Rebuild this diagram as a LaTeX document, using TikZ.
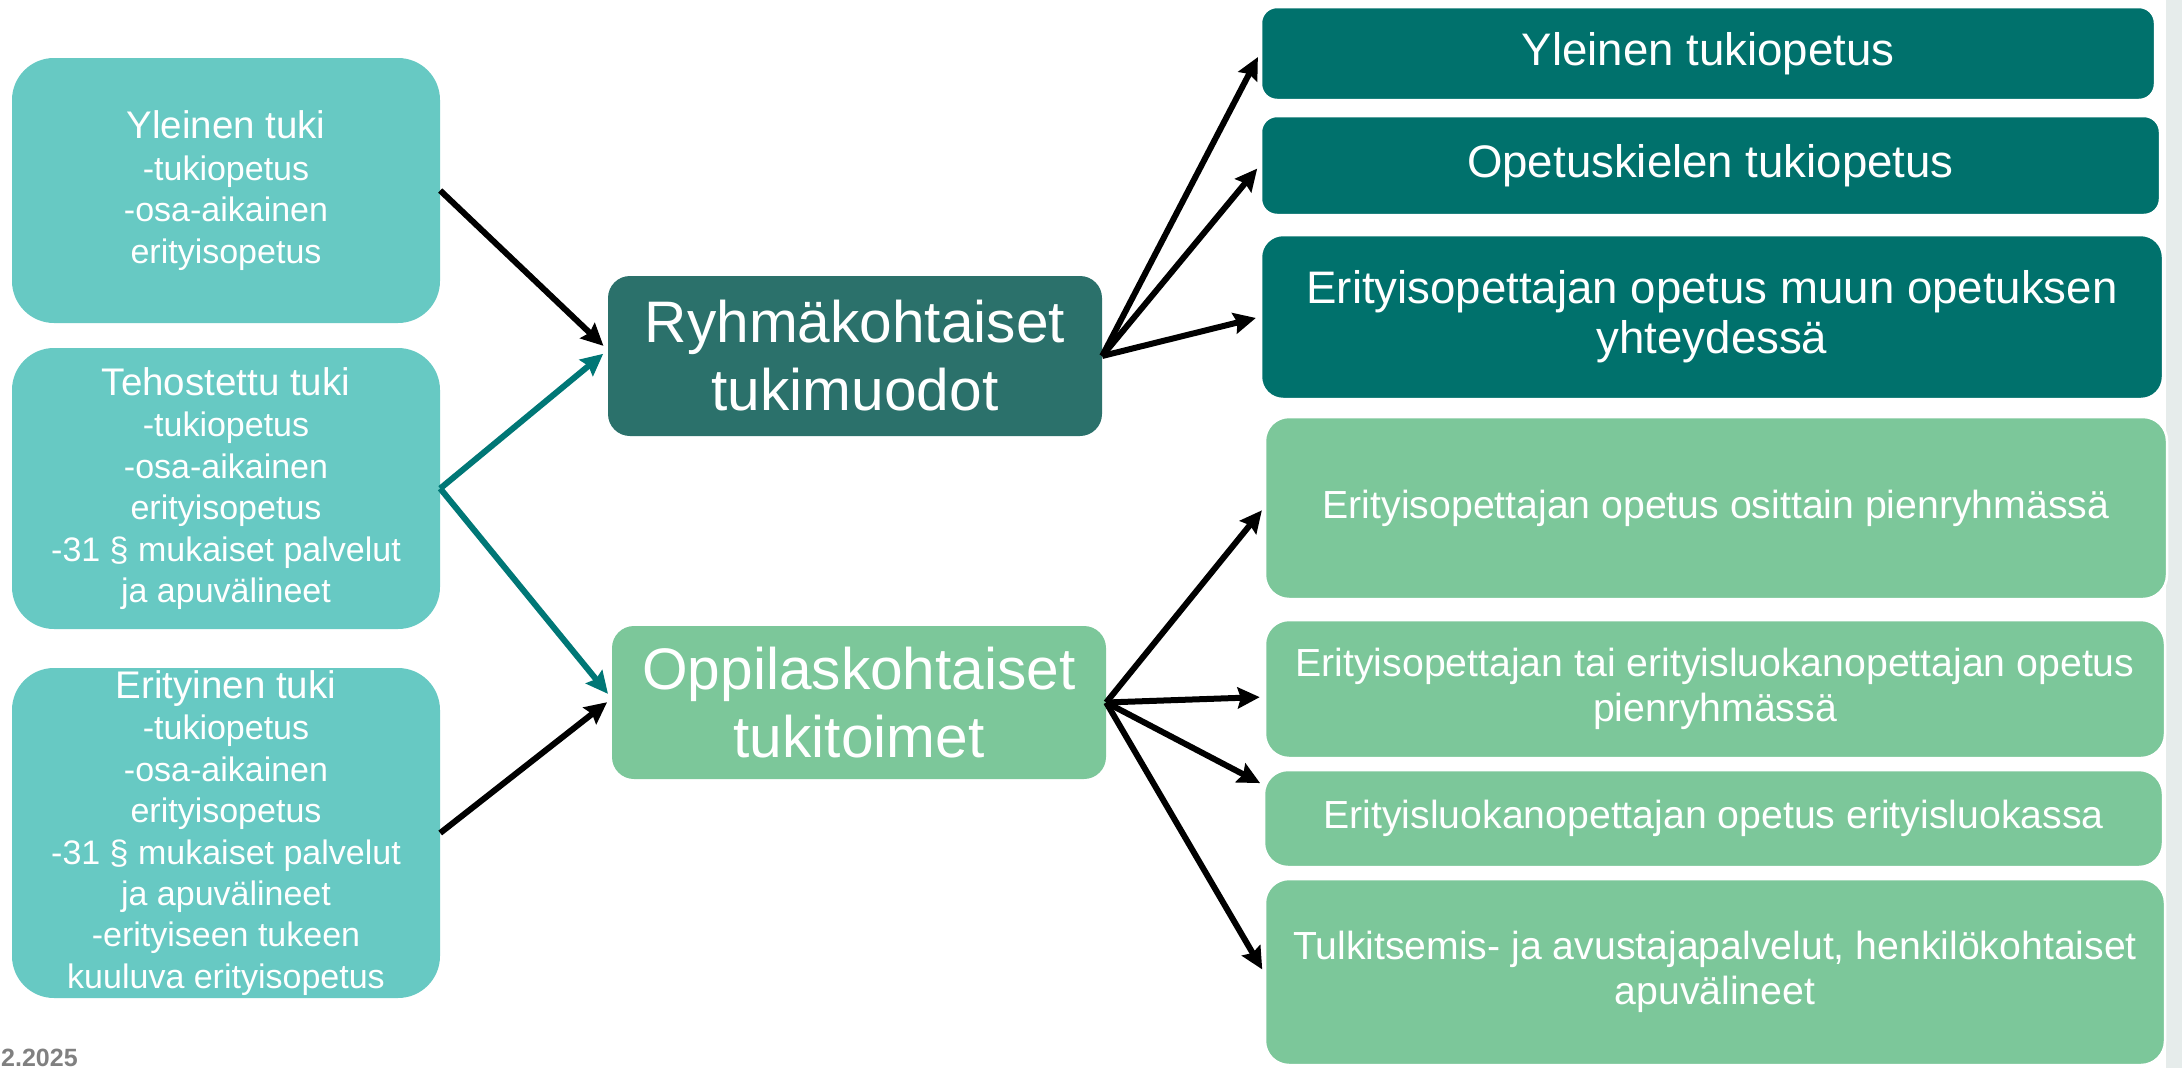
\documentclass[tikz,border=0pt]{standalone}
\usepackage{fontspec}
\setmainfont{Liberation Sans}
\usetikzlibrary{arrows.meta}
\definecolor{leftc}{HTML}{67C9C3}
\definecolor{ryhc}{HTML}{2B716B}
\definecolor{tealc}{HTML}{00716C}
\definecolor{greenc}{HTML}{7CC79A}
\definecolor{tarrow}{HTML}{007776}
\definecolor{edgegrey}{HTML}{E6ECEB}
\definecolor{dategrey}{HTML}{808080}
\begin{document}
\begin{tikzpicture}[x=1pt,y=-1pt,
  base/.style={rectangle, inner sep=0pt, text=white, align=center},
  leftbox/.style={base, fill=leftc, rounded corners=42pt, minimum width=428pt,
     font=\fontsize{34}{41.4}\selectfont},
  midbox/.style={base, rounded corners=22pt, minimum width=494pt,
     font=\fontsize{58.6}{68}\selectfont},
  tealbox/.style={base, fill=tealc, draw=white, line width=2.5pt, rounded corners=16pt,
     font=\fontsize{45.6}{50}\selectfont},
  greenbox/.style={base, fill=greenc, draw=white, line width=2.5pt, rounded corners=24pt,
     font=\fontsize{39.2}{45}\selectfont},
  arr/.style={line width=6pt, -{Stealth[length=22pt,width=21pt,inset=3pt]}},
  blackarr/.style={arr, draw=black},
  tealarr/.style={arr, draw=tarrow}
]
\useasboundingbox (0,0) rectangle (2182,1068);
\fill[edgegrey] (2166,0) rectangle (2182,1068);

% left boxes
\node[leftbox, minimum height=265pt] (l1) at (226,190.5)
  {{\fontsize{38.5}{41.4}\selectfont Yleinen tuki}\\-tukiopetus\\-osa-aikainen\\erityisopetus};
\node[leftbox, minimum height=281pt] (l2) at (226,488.5)
  {{\fontsize{38.5}{41.4}\selectfont Tehostettu tuki}\\-tukiopetus\\-osa-aikainen\\erityisopetus\\-31 § mukaiset palvelut\\ja apuvälineet};
\node[leftbox, minimum height=330pt] (l3) at (226,833)
  {{\fontsize{38.5}{41.4}\selectfont Erityinen tuki}\\-tukiopetus\\-osa-aikainen\\erityisopetus\\-31 § mukaiset palvelut\\ja apuvälineet\\-erityiseen tukeen\\kuuluva erityisopetus};

% middle boxes
\node[midbox, fill=ryhc, minimum height=160pt] (ryh) at (855,356)
  {Ryhmäkohtaiset\\tukimuodot};
\node[midbox, fill=greenc, minimum height=153pt] (opp) at (859,702.5)
  {Oppilaskohtaiset\\tukitoimet};

% right teal boxes
\node[tealbox, minimum width=894pt, minimum height=93pt] (r1) at (1708,53.5)
  {Yleinen tukiopetus};
\node[tealbox, minimum width=899pt, minimum height=99pt] (r2) at (1710.5,165.5)
  {Opetuskielen tukiopetus};
\node[tealbox, minimum width=902pt, minimum height=164pt, rounded corners=22pt] (r3) at (1712,317)
  {Erityisopettajan opetus muun opetuksen\\yhteydessä};

% right green boxes
\node[greenbox, minimum width=902pt, minimum height=182pt] (g1) at (1716,508)
  {Erityisopettajan opetus osittain pienryhmässä};
\node[greenbox, minimum width=900pt, minimum height=138pt] (g2) at (1715,689)
  {Erityisopettajan tai erityisluokanopettajan opetus\\pienryhmässä};
\node[greenbox, minimum width=899pt, minimum height=97pt] (g3) at (1713.5,818.5)
  {Erityisluokanopettajan opetus erityisluokassa};
\node[greenbox, minimum width=900pt, minimum height=186pt] (g4) at (1715,972)
  {Tulkitsemis- ja avustajapalvelut, henkilökohtaiset\\apuvälineet};

% left arrows
\draw[blackarr, shorten >=6pt] (l1.east) -- ([yshift=6pt]ryh.west);
\draw[tealarr, shorten >=6pt] (l2.east) -- ([yshift=6pt]ryh.west);
\draw[tealarr, shorten >=6pt] (l2.east) -- ([yshift=4pt]opp.west);
\draw[blackarr, shorten >=6pt] (l3.east) -- ([yshift=4pt]opp.west);

% arrows from Ryhmäkohtaiset
\draw[blackarr, shorten >=4pt] (ryh.east) -- (r1.west);
\draw[blackarr, shorten >=4pt] (ryh.east) -- (r2.west);
\draw[blackarr, shorten >=4pt] (ryh.east) -- (r3.west);

% arrows from Oppilaskohtaiset
\draw[blackarr, shorten >=3pt] (opp.east) -- (g1.west);
\draw[blackarr, shorten >=4pt] (opp.east) -- ([yshift=-8pt]g2.west);
\draw[blackarr, shorten >=3pt] (opp.east) -- ([yshift=34pt]g3.west);
\draw[blackarr, shorten >=3pt] (opp.east) -- (g4.west);

% date
\node[anchor=base west, inner sep=0pt, text=dategrey, font=\bfseries\fontsize{25}{25}\selectfont] (date) at (1,1066) {2.2025};
\end{tikzpicture}
\end{document}
